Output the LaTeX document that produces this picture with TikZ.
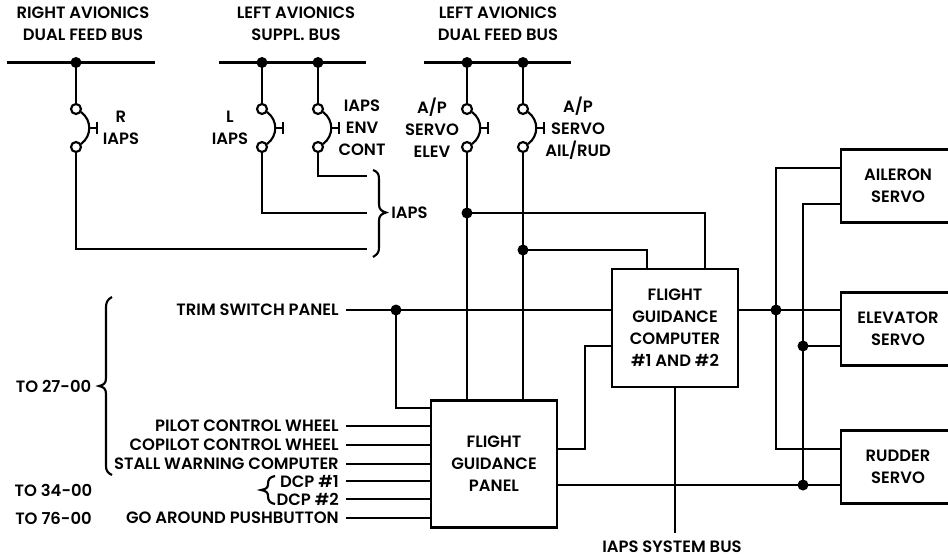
\documentclass[tikz,border=0pt]{standalone}
\usepackage{fontspec}
\setmainfont{Poppins}[UprightFont=* SemiBold]
\usetikzlibrary{
	calc,
	positioning
}
\tikzset{
	wire/.style={line width=1.6pt, line join=miter},
	busbar/.style={line width=2pt},
	dot/.style={fill=black},
	lbl/.style={inner sep=0pt, align=center, font=\fontsize{12.3}{16.5}\selectfont},
	lblr/.style={lbl, anchor=east},
	lbll/.style={lbl, anchor=west},
	unit/.style={draw, line width=1.9pt, inner sep=0pt, align=center, font=\fontsize{12.3}{16.5}\selectfont, minimum width=94.5pt},
	servo/.style={unit, minimum width=85.5pt, minimum height=55pt},
}

\begin{document}
\begin{tikzpicture}[x=0.75pt, y=-0.75pt]
		\useasboundingbox (0,0) rectangle (948,557);
		% buses
		\coordinate (BusAw) at (7,62.5);
		\coordinate (BusAe) at (155,62.5);
		\coordinate (BusBw) at (219,62.5);
		\coordinate (BusBe) at (366,62.5);
		\coordinate (BusCw) at (424,62.5);
		\coordinate (BusCe) at (571,62.5);
		\draw[busbar] (BusAw)--(BusAe);
		\draw[busbar] (BusBw)--(BusBe);
		\draw[busbar] (BusCw)--(BusCe);
		\node[lbl] (hdrA) at (83,24) {RIGHT AVIONICS\\DUAL FEED BUS};
		\node[lbl] (hdrB) at (296,24) {LEFT AVIONICS\\SUPPL. BUS};
		\node[lbl] (hdrC) at (498,24) {LEFT AVIONICS\\DUAL FEED BUS};
		% boxes
		\node[unit, minimum height=88.5pt] (FGC) at (675,328) {FLIGHT\\GUIDANCE\\COMPUTER\\\#1 AND \#2};
		\node[unit, minimum height=95pt] (FGP) at (494,464) {FLIGHT\\GUIDANCE\\PANEL};
		\node[servo] (AIL) at (898,186) {AILERON\\SERVO};
		\node[servo] (ELE) at (898,329) {ELEVATOR\\SERVO};
		\node[servo] (RUD) at (898,467) {RUDDER\\SERVO};
		% breakers
		\foreach \n/\x in {A/76,B/262,C/318,D/467,E/523}{
			\coordinate (Tap\n) at (\x,62.5);
			\coordinate (Top\n) at (\x,104);
			\coordinate (Bot\n) at (\x,152);
			\draw[wire] (Tap\n)--(Top\n);
			\fill[dot] (Tap\n) circle (5.5);
			\draw[wire] (\x,109) circle (5);
			\draw[wire] (\x,147) circle (5);
			\draw[wire] (\x+5,112) .. controls (\x+16,120) and (\x+16,136) .. (\x+5,144);
			\draw[wire] (\x+13,128)--(\x+21,128);
			\draw[wire] (\x+21,122)--(\x+21,134);
		}
		\node[lbl] (lblR) at (121,128) {R\\IAPS};
		\node[lbl] (lblL) at (230,128) {L\\IAPS};
		\node[lbl] (lblEnv) at (362,128) {IAPS\\ENV\\CONT};
		\node[lbl] (lblElev) at (432,128) {A/P\\SERVO\\ELEV};
		\node[lbl] (lblAil) at (578,128) {A/P\\SERVO\\AIL/RUD};
		% iaps feeds
		\coordinate (EndC) at (367,176);
		\coordinate (EndB) at (367,213);
		\coordinate (EndA) at (367,249);
		\draw[wire] (BotC)|-(EndC);
		\draw[wire] (BotB)|-(EndB);
		\draw[wire] (BotA)|-(EndA);
		\draw[wire] (373,170) .. controls (378,172) and (379,174) .. (379,180) -- (379,204) .. controls (379,209) and (381,211) .. (386,212.5) .. controls (381,214) and (379,216) .. (379,221) -- (379,247) .. controls (379,252) and (378,254) .. (373,257);
		\node[lbll] (lblIaps) at (391,212.5) {IAPS};
		% servo feeds to the panel and computer
		\coordinate (PanelD) at (BotD|-FGP.north);
		\coordinate (PanelE) at (BotE|-FGP.north);
		\draw[wire] (BotD)--(PanelD);
		\draw[wire] (BotE)--(PanelE);
		\coordinate (JctD) at (467,213);
		\coordinate (JctE) at (523,250);
		\coordinate (CompD) at (705,269);
		\coordinate (CompE) at (647,269);
		\draw[wire] (JctD)-|(CompD);
		\draw[wire] (JctE)-|(CompE);
		\fill[dot] (JctD) circle (5.5);
		\fill[dot] (JctE) circle (5.5);
		% trim line
		\node[lblr] (lblTrim) at (339,310) {TRIM SWITCH PANEL};
		\coordinate (TrimL) at (346,310);
		\coordinate (JctT) at (396,310);
		\coordinate (TrimP) at (431,408);
		\draw[wire] (TrimL)--(TrimL-|FGC.west);
		\draw[wire] (JctT)|-(TrimP);
		\fill[dot] (JctT) circle (5.5);
		% panel inputs
		\foreach \n/\y/\t in {a/426/PILOT CONTROL WHEEL,b/445/COPILOT CONTROL WHEEL,c/464/STALL WARNING COMPUTER,d/481/DCP \#1,e/499/DCP \#2,f/518/GO AROUND PUSHBUTTON}{
			\node[lblr] (lbl\n) at (339,\y) {\t};
			\coordinate (In\n) at (346,\y);
			\draw[wire] (In\n)--(In\n-|FGP.west);
		}
		\node[lbl] (to27) at (53.5,386) {TO 27-00};
		\node[lbl] (to34) at (53.5,490) {TO 34-00};
		\node[lbl] (to76) at (53.5,518) {TO 76-00};
		\draw[wire] (112,297) .. controls (108,299) and (106,302) .. (106,307) -- (106,378) .. controls (106,383) and (104,385) .. (99,386) .. controls (104,387) and (106,389) .. (106,394) -- (106,466) .. controls (106,471) and (108,473) .. (112,475);
		\draw[wire] (275,476) .. controls (270,477) and (268,479) .. (268,484) .. controls (268,488) and (266,489) .. (261,490) .. controls (266,491) and (268,492) .. (268,496) .. controls (268,501) and (270,503) .. (275,504);
		% panel to computer
		\coordinate (JogA) at (585,449);
		\coordinate (JogB) at (585,346);
		\draw[wire] (JogA-|FGP.east)--(JogA)--(JogB)--(JogB-|FGC.west);
		\coordinate (BusEnd) at (675,533);
		\draw[wire] (FGC.south)--(BusEnd);
		\node[lbl] (lblBus) at (672,546.5) {IAPS SYSTEM BUS};
		% servo wiring
		\coordinate (RailA) at (776,168);
		\coordinate (RailB) at (803,204);
		\coordinate (JctR) at (803,485);
		\coordinate (JctS) at (776,310);
		\coordinate (JctV) at (803,346);
		\draw[wire] (RailA-|AIL.west)--(RailA)--(776,449)--(RUD.west|-0,449);
		\draw[wire] (RailB-|AIL.west)--(RailB)--(JctR);
		\draw[wire] (FGC.east|-JctS)--(ELE.west|-JctS);
		\draw[wire] (JctV)--(ELE.west|-JctV);
		\draw[wire] (FGP.east|-JctR)--(RUD.west|-JctR);
		\fill[dot] (JctS) circle (5.5);
		\fill[dot] (JctV) circle (5.5);
		\fill[dot] (JctR) circle (5.5);
	\end{tikzpicture}
\end{document}
